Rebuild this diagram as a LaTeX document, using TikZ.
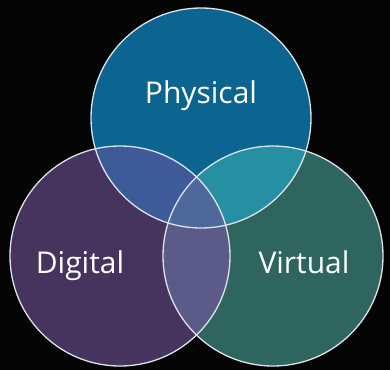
\documentclass[tikz,border=0pt]{standalone}
\usepackage{fontspec}
\setmainfont{Open Sans}
\usepackage{tikz}
\usetikzlibrary{positioning}
\definecolor{bg}{HTML}{050506}
\definecolor{physical}{HTML}{0B6590}
\definecolor{digital}{HTML}{46345E}
\definecolor{virtual}{HTML}{2F655F}
\definecolor{physdig}{HTML}{3E5A98}
\definecolor{physvirt}{HTML}{2690A2}
\definecolor{digvirt}{HTML}{5C5A88}
\definecolor{allthree}{HTML}{4F689C}
\definecolor{rim}{HTML}{DCE4EA}
\tikzset{
  ring/.style={circle,draw=rim,line width=1.3pt,minimum size=220pt,inner sep=0pt},
  word/.style={text=white,font=\fontsize{30}{34}\selectfont,anchor=base}}

\begin{document}
\begin{tikzpicture}[x=1pt,y=-1pt]
\fill[bg] (0,0) rectangle (390,370);
\useasboundingbox (0,0) rectangle (390,370);
\coordinate (p) at (201,118);
\coordinate (d) at (120,256);
\coordinate (v) at (273,256);
% base discs
\fill[physical] (p) circle (110);
\fill[digital] (d) circle (110);
\fill[virtual] (v) circle (110);
% overlaps
\begin{scope}
  \clip (p) circle (110);
  \fill[physdig] (d) circle (110);
  \fill[physvirt] (v) circle (110);
\end{scope}
\begin{scope}
  \clip (d) circle (110);
  \fill[digvirt] (v) circle (110);
  \clip (v) circle (110);
  \fill[allthree] (p) circle (110);
\end{scope}
% outlines
\node[ring] (physring) at (p) {};
\node[ring] (digring) at (d) {};
\node[ring] (virtring) at (v) {};
% labels
\node[word] (physlbl) at (201,103) {Physical};
\node[word] (diglbl) at (80,273) {Digital};
\node[word] (virtlbl) at (304,273) {Virtual};
\end{tikzpicture}
\end{document}
